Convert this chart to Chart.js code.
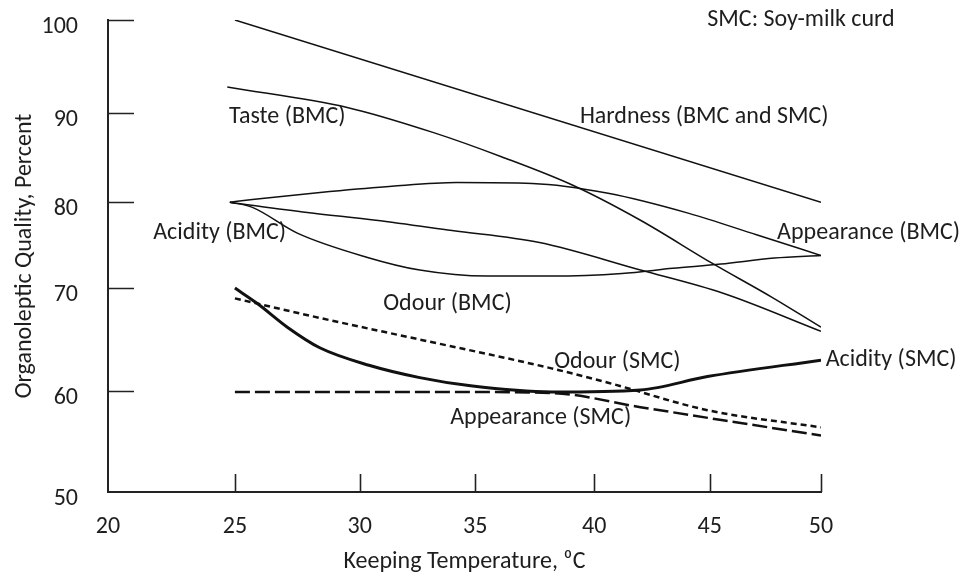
<!DOCTYPE html>
<html>
<head>
  <title>Organoleptic Quality vs Keeping Temperature</title>
  <script src="https://cdn.jsdelivr.net/npm/chart.js"></script>
  <style>
    body { margin: 0; background: #fff; }
  </style>
</head>
<body>
  <canvas id="qualityChart" width="970" height="577"></canvas>

  <script>
    // readings [temperature, percent] taken off the original figure
    const hardness = [[25, 100], [50, 80]];
    const tasteBMC = [[24.7, 92.8], [29.5, 90.6], [33.2, 87.8], [36.1, 85.1], [39.1, 81.9], [42.0, 77.9], [45.1, 72.9], [47.8, 69.1], [50, 66.2]];
    const appearanceBMC = [[24.8, 80], [25.7, 80.3], [28.8, 81.2], [31.4, 81.8], [34.2, 82.2], [37.4, 82.1], [40.6, 81.0], [44.1, 78.7], [47.1, 76.2], [50, 73.8]];
    const acidityBMC = [[24.8, 80], [27.9, 78.8], [30.7, 77.9], [34.0, 76.7], [37.7, 75.3], [42.0, 72.1], [45.6, 69.5], [50, 65.8]];
    const odourBMC = [[24.8, 80], [25.7, 79.4], [27.5, 76.4], [30.3, 73.6], [32.6, 72.1], [35.5, 71.4], [38.2, 71.4], [41.2, 71.7], [43.4, 72.3], [45.5, 72.8], [47.9, 73.5], [50, 73.8]];
    const aciditySMC = [[25, 70], [25.9, 68.5], [27.1, 66.2], [28.4, 64.2], [30.4, 62.5], [32.6, 61.3], [34.8, 60.5], [38.2, 59.9], [42.0, 60.1], [44.9, 61.4], [50, 63.0]];
    const odourSMC = [[25, 69.0], [28.4, 67.1], [32.6, 65.0], [38.2, 62.2], [40.6, 60.8], [44.9, 58.1], [50, 56.4]];
    const appearanceSMC = [[25, 59.9], [34.1, 59.9], [38.2, 59.8], [42.0, 58.4], [45.6, 57.1], [50, 55.6]];

    // curve labels, anchored in data units [text, temperature, percent]
    const curveLabels = [
      ['SMC: Soy-milk curd', 49.1, 100],
      ['Taste (BMC)', 27.1, 89.55],
      ['Hardness (BMC and SMC)', 44.76, 89.55],
      ['Acidity (BMC)', 24.4, 76.4],
      ['Appearance (BMC)', 52.14, 76.4],
      ['Odour (BMC)', 33.8, 68.5],
      ['Odour (SMC)', 41.0, 62.8],
      ['Acidity (SMC)', 53.15, 63.0],
      ['Appearance (SMC)', 37.75, 57.3]
    ];

    const xTicks = [20, 25, 30, 35, 40, 45, 50];
    const yTicks = [50, 60, 70, 80, 90, 100];

    // the hand-drawn axes are not evenly spaced; share of axis length at each tick
    const bends = {
      x: { values: xTicks, fracs: [0, 0.178, 0.353, 0.515, 0.682, 0.844, 1] },
      y: { values: yTicks, fracs: [0, 0.214, 0.432, 0.614, 0.803, 1] }
    };

    class BentScale extends Chart.LinearScale {
      getPixelForValue(value) {
        if (value === null || value === undefined) return NaN;
        const b = bends[this.id];
        const v = b.values, f = b.fracs;
        let i = 1;
        while (i < v.length - 1 && value > v[i]) i++;
        const t = (value - v[i - 1]) / (v[i] - v[i - 1]);
        return this.getPixelForDecimal(f[i - 1] + t * (f[i] - f[i - 1]));
      }
      getValueForPixel(pixel) {
        const b = bends[this.id];
        const v = b.values, f = b.fracs;
        const d = this.getDecimalForPixel(pixel);
        let i = 1;
        while (i < f.length - 1 && d > f[i]) i++;
        const t = (d - f[i - 1]) / (f[i] - f[i - 1]);
        return v[i - 1] + t * (v[i] - v[i - 1]);
      }
    }
    BentScale.id = 'bent';
    BentScale.defaults = Chart.LinearScale.defaults;
    Chart.register(BentScale);

    const fontFamily = "Carlito, Calibri, 'Open Sans', sans-serif";
    const fontSize = 24;
    const ink = '#1e1e1e';

    function series(points, width, dash) {
      return {
        data: points.map(p => ({ x: p[0], y: p[1] })),
        borderColor: '#111',
        borderWidth: width,
        borderDash: dash || [],
        pointRadius: 0,
        fill: false,
        cubicInterpolationMode: 'monotone'
      };
    }

    // short tick marks pointing into the plot, like the original
    const inwardTicks = {
      id: 'inwardTicks',
      afterDraw(chart) {
        const { ctx, scales: { x, y } } = chart;
        ctx.save();
        ctx.strokeStyle = '#222';
        ctx.lineWidth = 1.6;
        ctx.beginPath();
        xTicks.slice(1).forEach(t => {
          const px = Math.round(x.getPixelForValue(t)) + 0.5;
          ctx.moveTo(px, y.bottom);
          ctx.lineTo(px, y.bottom - 18);
        });
        yTicks.slice(1).forEach(t => {
          const py = Math.round(y.getPixelForValue(t)) + 0.5;
          ctx.moveTo(x.left, py);
          ctx.lineTo(x.left + 26, py);
        });
        ctx.stroke();
        ctx.restore();
      }
    };

    const curveText = {
      id: 'curveText',
      afterDatasetsDraw(chart) {
        const { ctx, scales: { x, y } } = chart;
        ctx.save();
        ctx.fillStyle = ink;
        ctx.font = fontSize + 'px ' + fontFamily;
        ctx.textAlign = 'center';
        ctx.textBaseline = 'middle';
        curveLabels.forEach(([text, tx, ty]) => {
          ctx.fillText(text, x.getPixelForValue(tx), y.getPixelForValue(ty));
        });
        ctx.restore();
      }
    };

    const ctx = document.getElementById('qualityChart').getContext('2d');
    new Chart(ctx, {
      type: 'line',
      data: {
        datasets: [
          series(hardness, 1.5),
          series(tasteBMC, 1.5),
          series(appearanceBMC, 1.5),
          series(acidityBMC, 1.5),
          series(odourBMC, 1.5),
          series(aciditySMC, 3),
          series(odourSMC, 2.5, [6, 4]),
          series(appearanceSMC, 2.5, [15, 5])
        ]
      },
      options: {
        responsive: false,
        animation: false,
        layout: { padding: { top: 20, right: 149, bottom: 0, left: 0 } },
        plugins: {
          legend: { display: false },
          tooltip: { enabled: false }
        },
        scales: {
          x: {
            type: 'bent',
            min: 20,
            max: 50,
            afterFit(scale) { scale.height = 85; scale.paddingLeft = 0; scale.paddingRight = 0; },
            afterBuildTicks(scale) { scale.ticks = xTicks.map(v => ({ value: v })); },
            grid: { display: true, drawOnChartArea: false, drawTicks: false },
            border: { color: '#222', width: 2 },
            ticks: { color: ink, padding: 21, font: { family: fontFamily, size: fontSize } },
            title: {
              display: true,
              text: 'Keeping Temperature, \u2070C',
              color: ink,
              padding: { top: 0, bottom: 1 },
              font: { family: fontFamily, size: fontSize }
            }
          },
          y: {
            type: 'bent',
            min: 50,
            max: 100,
            afterFit(scale) { scale.width = 108; scale.paddingTop = 0; scale.paddingBottom = 0; },
            afterBuildTicks(scale) { scale.ticks = yTicks.map(v => ({ value: v })); },
            grid: { display: true, drawOnChartArea: false, drawTicks: false },
            border: { color: '#222', width: 2 },
            ticks: { color: ink, padding: 30, labelOffset: 7, font: { family: fontFamily, size: fontSize } },
            title: {
              display: true,
              text: 'Organoleptic Quality, Percent',
              color: ink,
              padding: { top: 10.5, bottom: 0 },
              font: { family: fontFamily, size: fontSize }
            }
          }
        }
      },
      plugins: [curveText, inwardTicks]
    });
  </script>
</body>
</html>
